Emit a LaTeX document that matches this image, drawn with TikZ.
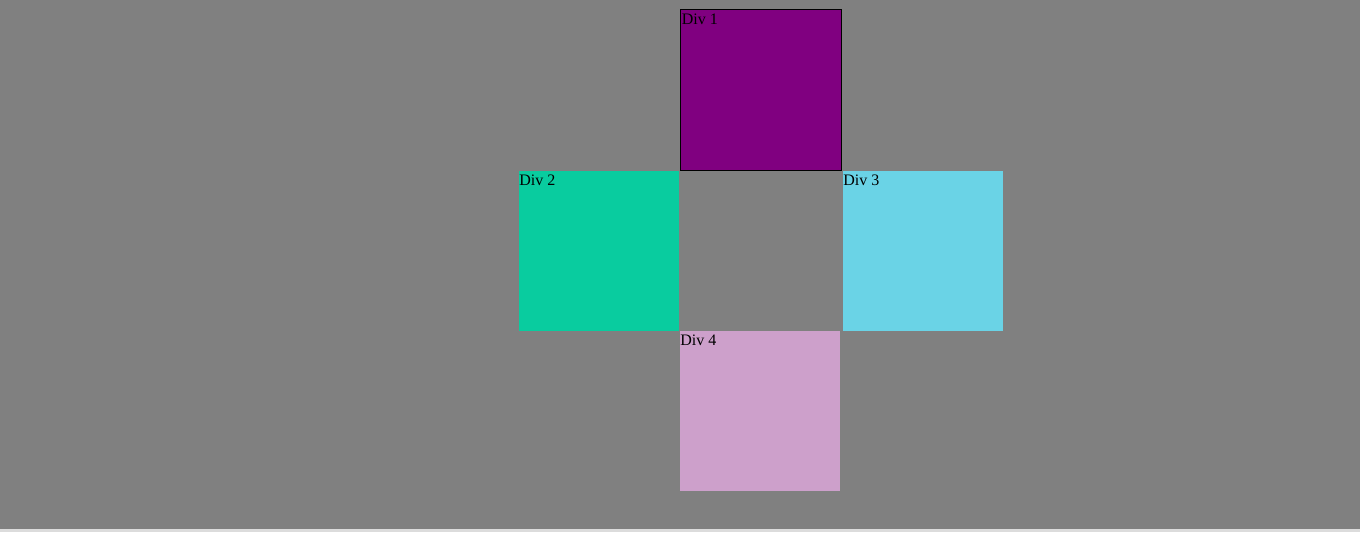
\documentclass[tikz,border=0pt]{standalone}
\usepackage{fontspec}
\setmainfont{Liberation Serif}
\definecolor{pagegray}{HTML}{808080}
\definecolor{stripgray}{HTML}{DCDCDC}
\definecolor{divpurple}{HTML}{800080}
\definecolor{divgreen}{HTML}{09CC9F}
\definecolor{divcyan}{HTML}{6AD3E6}
\definecolor{divpink}{HTML}{CDA0CB}
\tikzset{
  divbox/.style={rectangle, inner sep=0pt, outer sep=0pt, anchor=north west,
    minimum width=160*0.75pt, minimum height=160*0.75pt},
  divlabel/.style={inner sep=0pt, anchor=base west, font=\fontsize{12}{14}\selectfont}
}
\begin{document}
\begin{tikzpicture}[x=0.75pt, y=-0.75pt]
\fill[pagegray] (0,0) rectangle (1360,529);
\fill[stripgray] (0,529) rectangle (1360,532);
\useasboundingbox (0,0) rectangle (1360,532);
% the four boxes
\node[divbox, fill=divpurple, draw=black, line width=0.75pt, minimum width=161*0.75pt, minimum height=161*0.75pt] (d1) at (680.5,9.5) {};
\node[divbox, fill=divgreen] (d2) at (519,171) {};
\node[divbox, fill=divcyan] (d3) at (843,171) {};
\node[divbox, fill=divpink] (d4) at (680,331) {};
% labels
\node[divlabel] (l1) at ([shift={(1,14.5)}]d1.north west) {Div 1};
\node[divlabel] (l2) at ([shift={(0,14.5)}]d2.north west) {Div 2};
\node[divlabel] (l3) at ([shift={(0,14.5)}]d3.north west) {Div 3};
\node[divlabel] (l4) at ([shift={(0,14.5)}]d4.north west) {Div 4};
\end{tikzpicture}
\end{document}
